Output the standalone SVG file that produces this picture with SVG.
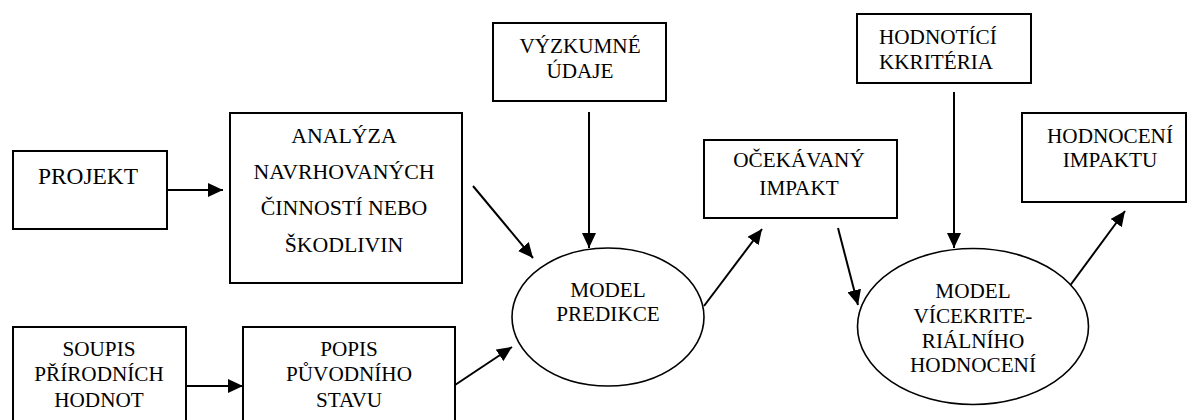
<svg xmlns="http://www.w3.org/2000/svg" width="1187" height="420" viewBox="0 0 1187 420">
<style>
.box{fill:#fff;stroke:#000;stroke-width:2}
.ell{fill:#fff;stroke:#000;stroke-width:1.6}
text{font-family:'Liberation Serif','DejaVu Serif',serif;font-size:21.2px;fill:#000;text-anchor:middle}
text.tl{text-anchor:start}
.c{stroke:#000;stroke-width:2;fill:none;marker-end:url(#ah)}
</style>
<defs>
<marker id="ah" markerUnits="userSpaceOnUse" markerWidth="16" markerHeight="14" refX="15" refY="7" orient="auto">
<path d="M0,0 L15,7 L0,14 z" fill="#000"/>
</marker>
</defs>
<rect width="1187" height="420" fill="#fff"/>
<g id="connectors">
<line class="c" x1="167" y1="190" x2="223" y2="190"/>
<line class="c" x1="186" y1="386" x2="243" y2="386"/>
<line class="c" x1="455" y1="385" x2="512" y2="347"/>
<line class="c" x1="473" y1="186" x2="533" y2="258"/>
<line class="c" x1="589" y1="112" x2="589" y2="248"/>
<line class="c" x1="704" y1="306" x2="762" y2="229"/>
<line class="c" x1="838" y1="228" x2="858" y2="305"/>
<line class="c" x1="954" y1="92" x2="954" y2="248"/>
<line class="c" x1="1069" y1="287" x2="1125" y2="211"/>
</g>
<g id="projekt">
<rect class="box" x="13" y="151" width="154" height="78"/>
<text x="88" y="184" style="font-size:23.4px">PROJEKT</text>
</g>
<g id="analyza" style="font-size:21.8px">
<rect class="box" x="230" y="113" width="232" height="170"/>
<text x="344" y="143" style="font-size:21.8px">ANALÝZA</text>
<text x="344" y="179" style="font-size:21.8px">NAVRHOVANÝCH</text>
<text x="344" y="215" style="font-size:21.8px">ČINNOSTÍ NEBO</text>
<text x="344" y="252" style="font-size:21.8px">ŠKODLIVIN</text>
</g>
<g id="soupis">
<rect class="box" x="13" y="327" width="173" height="110"/>
<text x="99" y="356">SOUPIS</text>
<text x="99" y="381">PŘÍRODNÍCH</text>
<text x="99" y="407">HODNOT</text>
</g>
<g id="popis">
<rect class="box" x="243" y="327" width="212" height="110"/>
<text x="349" y="356">POPIS</text>
<text x="349" y="381">PŮVODNÍHO</text>
<text x="349" y="407">STAVU</text>
</g>
<g id="vyzkumne">
<rect class="box" x="493" y="23" width="173" height="78"/>
<text x="580" y="53">VÝZKUMNÉ</text>
<text x="580" y="78">ÚDAJE</text>
</g>
<g id="model-predikce">
<ellipse class="ell" cx="608" cy="317" rx="96" ry="69"/>
<text x="608" y="297">MODEL</text>
<text x="608" y="321">PREDIKCE</text>
</g>
<g id="ocekavany">
<rect class="box" x="704" y="140" width="193" height="78"/>
<text x="799" y="167">OČEKÁVANÝ</text>
<text x="799" y="195">IMPAKT</text>
</g>
<g id="hodnotici">
<rect class="box" x="857" y="14" width="174" height="69"/>
<text class="tl" x="879" y="44">HODNOTÍCÍ</text>
<text class="tl" x="879" y="69">KKRITÉRIA</text>
</g>
<g id="model-vicekriterialni">
<ellipse class="ell" cx="973" cy="326.5" rx="115.5" ry="78"/>
<text x="973" y="298">MODEL</text>
<text x="973" y="323">VÍCEKRITE-</text>
<text x="973" y="348">RIÁLNÍHO</text>
<text x="973" y="372">HODNOCENÍ</text>
</g>
<g id="hodnoceni">
<rect class="box" x="1022" y="113" width="164" height="89"/>
<text x="1110" y="143">HODNOCENÍ</text>
<text x="1110" y="167">IMPAKTU</text>
</g>
</svg>
